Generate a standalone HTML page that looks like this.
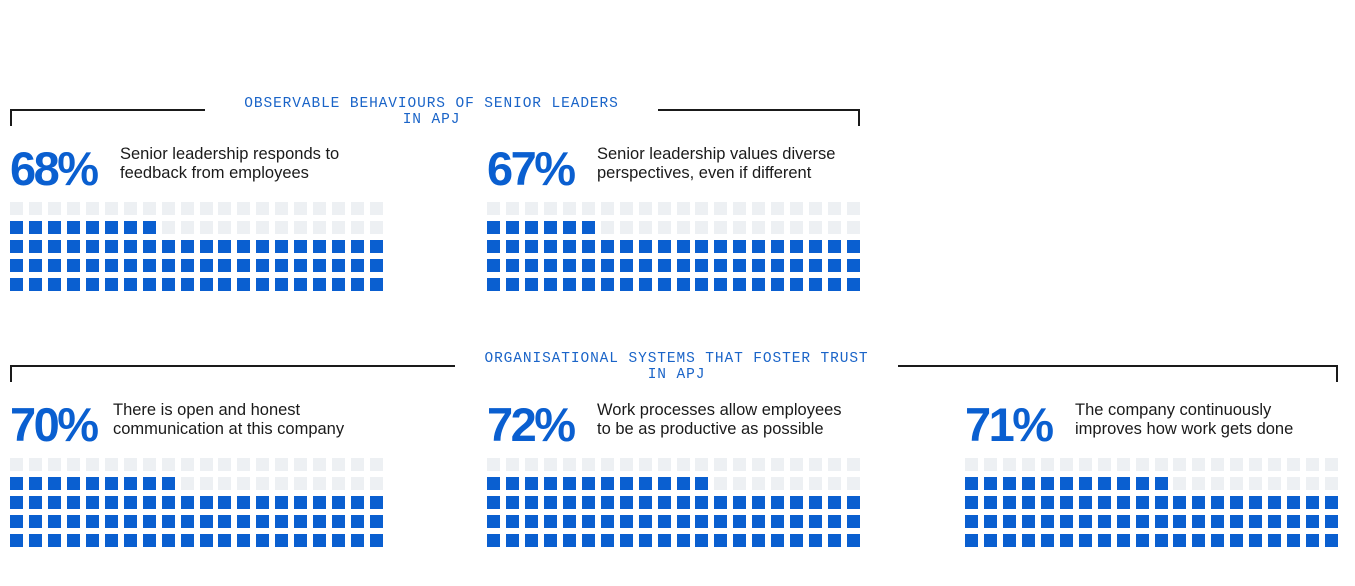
<!DOCTYPE html>
<html><head><meta charset="utf-8"><style>
body{margin:0;width:1355px;height:586px;background:#fff;position:relative;overflow:hidden;font-family:"Liberation Sans",sans-serif}
.a{position:absolute}
.ln{position:absolute;background:#1a1a1a}
.hd{position:absolute;font-family:"Liberation Mono",monospace;color:#1a64c8;font-size:14.5px;letter-spacing:0.9px;text-align:center;line-height:16px}
.pct{position:absolute;color:#0a5fd0;font-weight:bold;font-size:47px;letter-spacing:-2.5px;line-height:47px}
.desc{position:absolute;color:#1a1a1a;font-size:16.5px;line-height:19px}
.sq{position:absolute;width:13px;height:13px}
</style></head><body>
<div class="ln" style="left:10px;top:109px;width:195px;height:2px"></div>
<div class="ln" style="left:658px;top:109px;width:202px;height:2px"></div>
<div class="ln" style="left:10px;top:109px;width:2px;height:17px"></div>
<div class="ln" style="left:858px;top:109px;width:2px;height:17px"></div>
<div class="hd" style="left:205px;top:96px;width:453px">OBSERVABLE BEHAVIOURS OF SENIOR LEADERS<br>IN APJ</div>
<div class="ln" style="left:10px;top:365px;width:445px;height:2px"></div>
<div class="ln" style="left:898px;top:365px;width:440px;height:2px"></div>
<div class="ln" style="left:10px;top:365px;width:2px;height:17px"></div>
<div class="ln" style="left:1336px;top:365px;width:2px;height:17px"></div>
<div class="hd" style="left:455px;top:351px;width:443px">ORGANISATIONAL SYSTEMS THAT FOSTER TRUST<br>IN APJ</div>
<div id="root"></div>
<script>
const labels=["68%","67%","70%","72%","71%"];
const descriptions=["Senior leadership responds to<br>feedback from employees","Senior leadership values diverse<br>perspectives, even if different","There is open and honest<br>communication at this company","Work processes allow employees<br>to be as productive as possible","The company continuously<br>improves how work gets done"];
const filled=[68,66,69,72,71];
const panelX=[10,487,10,487,965];
const panelY=[145,145,401,401,401];
const descX=[120,597,113,597,1075];
const root=document.getElementById('root');
for(let p=0;p<labels.length;p++){
  const t=document.createElement('div');t.className='pct';
  
  
  t.style.left=panelX[p]+'px';t.style.top=panelY[p]+'px';t.textContent=labels[p];root.appendChild(t);
  const d=document.createElement('div');d.className='desc';
  
  
  d.style.left=descX[p]+'px';d.style.top=(panelY[p]+0)+'px';d.innerHTML=descriptions[p];root.appendChild(d);
  const gy=panelY[p]+57;
  for(let i=0;i<100;i++){
    const row=4-Math.floor(i/20), col=i%20;
    const s=document.createElement('div');s.className='sq';
    
    
    s.style.left=(panelX[p]+col*18.95)+'px';s.style.top=(gy+row*19)+'px';
    s.style.background=i<filled[p]?'#0a5fd0':'#edf0f3';
    root.appendChild(s);
  }
}
</script>
</body></html>
